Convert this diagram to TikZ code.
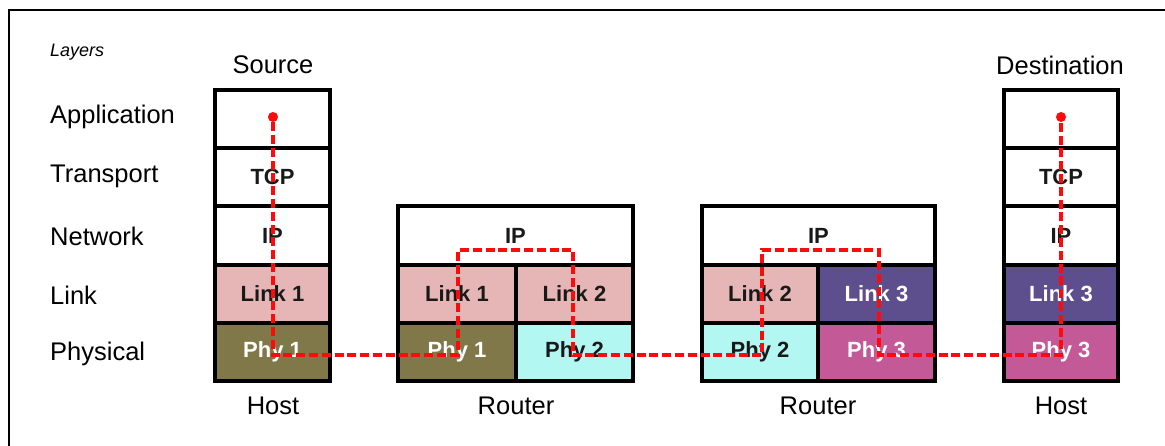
\documentclass[tikz,border=0pt]{standalone}
\usepackage{fontspec}
\setmainfont{Liberation Sans}
\definecolor{linkpink}{HTML}{E6B6B6}
\definecolor{phyolive}{HTML}{807849}
\definecolor{phycyan}{HTML}{B3F7F3}
\definecolor{linkpurple}{HTML}{5D4F8D}
\definecolor{phymagenta}{HTML}{C45997}
\definecolor{hopred}{HTML}{FF0A0A}
\tikzset{
  cell/.style={draw, line width=4pt, minimum width=#1, minimum height=58.2pt,
    inner sep=0pt, outer sep=0pt, text=black!90,
    font=\fontsize{22}{24}\selectfont\bfseries},
  cell/.default=115pt,
  layer/.style={anchor=west, inner sep=0pt, font=\fontsize{25.5}{28}\selectfont},
  caption/.style={inner sep=0pt, font=\fontsize{25.5}{28}\selectfont},
  hop/.style={hopred, line width=4.5pt, dash pattern=on 9pt off 3.8pt},
  enddot/.style={circle, fill=hopred, inner sep=0pt, minimum size=10pt}
}
\begin{document}
\begin{tikzpicture}[x=1pt, y=-1pt]
		\useasboundingbox (0,0) rectangle (1165,446);
		\draw[line width=2pt] (9,10) rectangle (1190,470);
		% layer names
		\node[layer, font=\fontsize{18}{20}\selectfont\itshape] (layers) at (50,52) {Layers};
		\node[layer] (lapp) at (50,117) {Application};
		\node[layer] (ltra) at (50,176) {Transport};
		\node[layer] (lnet) at (50,236) {Network};
		\node[layer] (llnk) at (50,295) {Link};
		\node[layer] (lphy) at (50,354) {Physical};
		% source host
		\node[caption] (src) at (273,65) {Source};
		\node[cell] (sapp) at (272.5,119.1) {};
		\node[cell] (stcp) at (272.5,177.3) {TCP};
		\node[cell] (sip) at (272.5,235.5) {IP};
		\node[cell, fill=linkpink] (slnk) at (272.5,293.7) {Link 1};
		\node[cell, fill=phyolive, text=white] (sphy) at (272.5,351.9) {Phy 1};
		\node[caption] (shost) at (273,406) {Host};
		% first router
		\node[cell=235pt] (raip) at (515.5,235.5) {IP};
		\node[cell=118pt, fill=linkpink] (ralnka) at (457,293.7) {Link 1};
		\node[cell=117pt, fill=linkpink] (ralnkb) at (574.5,293.7) {Link 2};
		\node[cell=118pt, fill=phyolive, text=white] (raphya) at (457,351.9) {Phy 1};
		\node[cell=117pt, fill=phycyan] (raphyb) at (574.5,351.9) {Phy 2};
		\node[caption] (ra) at (516,406) {Router};
		% second router
		\node[cell=233pt] (rbip) at (818.5,235.5) {IP};
		\node[cell=116pt, fill=linkpink] (rblnka) at (760,293.7) {Link 2};
		\node[cell=117pt, fill=linkpurple, text=white] (rblnkb) at (876.5,293.7) {Link 3};
		\node[cell=116pt, fill=phycyan] (rbphya) at (760,351.9) {Phy 2};
		\node[cell=117pt, fill=phymagenta, text=white] (rbphyb) at (876.5,351.9) {Phy 3};
		\node[caption] (rb) at (818,406) {Router};
		% destination host
		\node[caption] (dst) at (1060,65) {Destination};
		\node[cell=114pt] (dapp) at (1061,119.1) {};
		\node[cell=114pt] (dtcp) at (1061,177.3) {TCP};
		\node[cell=114pt] (dip) at (1061,235.5) {IP};
		\node[cell=114pt, fill=linkpurple, text=white] (dlnk) at (1061,293.7) {Link 3};
		\node[cell=114pt, fill=phymagenta, text=white] (dphy) at (1061,351.9) {Phy 3};
		\node[caption] (dhost) at (1061,406) {Host};
		% path of the data
		\node[enddot] (sdot) at (273,117) {};
		\node[enddot] (ddot) at (1061,117) {};
		\coordinate (p1) at (273,355);
		\coordinate (p2) at (458,355);
		\coordinate (p3) at (458,250);
		\coordinate (p4) at (573,250);
		\coordinate (p5) at (573,355);
		\coordinate (p6) at (762,355);
		\coordinate (p7) at (762,250);
		\coordinate (p8) at (879,250);
		\coordinate (p9) at (879,355);
		\coordinate (p10) at (1061,355);
		\draw[hop] (sdot) -- (p1) -- (p2) -- (p3) -- (p4) -- (p5) -- (p6)
		  -- (p7) -- (p8) -- (p9) -- (p10) -- (ddot);
\end{tikzpicture}
\end{document}
